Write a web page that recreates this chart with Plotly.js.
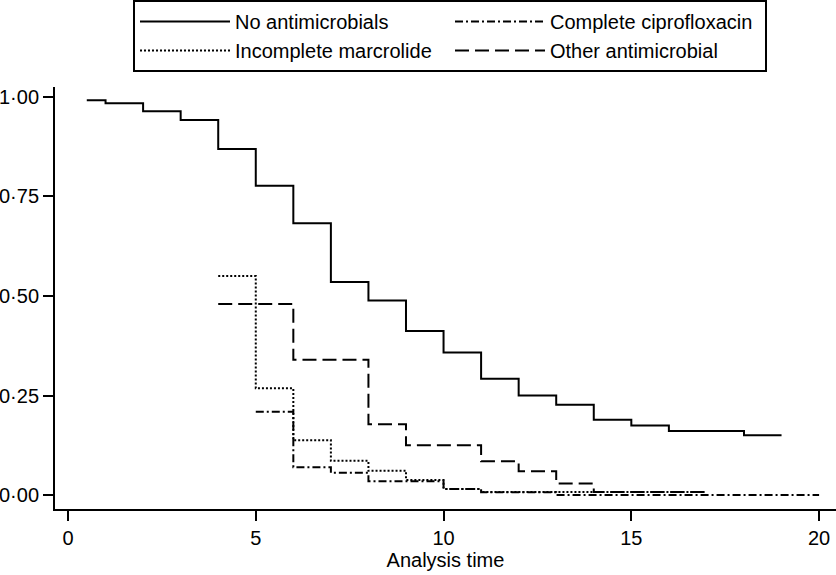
<!DOCTYPE html>
<html>
<head>
<meta charset="utf-8">
<script src="https://cdn.plot.ly/plotly-3.0.1.min.js"></script>
<style>html,body{margin:0;padding:0;background:#fff;}#chart{width:836px;height:575px;}</style>
</head>
<body>
<div id="chart"></div>
<script>
// Kaplan-Meier style step curves (time, survival)
const noAntiTime = [0.5, 1, 2, 3, 4, 5, 6, 7, 8, 9, 10, 11, 12, 13, 14, 15, 16, 18, 19];
const noAntiSurv = [0.992, 0.984, 0.964, 0.942, 0.869, 0.777, 0.683, 0.535, 0.489, 0.412, 0.358, 0.292, 0.250, 0.227, 0.189, 0.175, 0.161, 0.150, 0.150];

const cipTime = [5, 6, 7, 8, 10, 11, 13, 20];
const cipSurv = [0.209, 0.070, 0.056, 0.035, 0.015, 0.007, 0.0, 0.0];

const macTime = [4, 5, 6, 7, 8, 9, 10, 11, 17];
const macSurv = [0.550, 0.268, 0.138, 0.086, 0.061, 0.038, 0.015, 0.008, 0.008];

const otherTime = [4, 6, 8, 9, 11, 12, 13, 14, 17];
const otherSurv = [0.480, 0.340, 0.178, 0.125, 0.085, 0.060, 0.029, 0.008, 0.008];

const seriesNames = ["No antimicrobials", "Complete ciprofloxacin", "Incomplete marcrolide", "Other antimicrobial"];
const xTickVals = [0, 5, 10, 15, 20];
const yTickVals = [0, 0.25, 0.5, 0.75, 1];
const yTickText = ["0·00", "0·25", "0·50", "0·75", "1·00"];

const FONT = "Liberation Sans, Arial, Helvetica, sans-serif";
function tr(x, y, name, dash) {
  return {x: x, y: y, name: name, type: "scatter", mode: "lines",
          line: {shape: "hv", color: "#000", width: 2, dash: dash}};
}
const data = [
  tr(noAntiTime, noAntiSurv, seriesNames[0], "solid"),
  tr(cipTime, cipSurv, seriesNames[1], "8px,3px,2px,3px"),
  tr(macTime, macSurv, seriesNames[2], "2px,2px"),
  tr(otherTime, otherSurv, seriesNames[3], "14px,6px")
];
const layout = {
  width: 836, height: 575,
  margin: {l: 55, r: 0, t: 87, b: 66, autoexpand: false},
  paper_bgcolor: "#fff", plot_bgcolor: "#fff",
  font: {family: FONT, size: 20, color: "#000"},
  showlegend: true,
  legend: {
    orientation: "h", xref: "container", yref: "container",
    x: 133/836, xanchor: "left", y: 1, yanchor: "top",
    entrywidth: 210, itemwidth: 90,
    bordercolor: "#000", borderwidth: 2,
    font: {family: FONT, size: 20, color: "#000"},
    traceorder: "normal"
  },
  xaxis: {
    range: [-0.346, 20.45], tickvals: xTickVals, ticks: "outside", ticklen: 10,
    tickwidth: 2, tickcolor: "#000", showline: true, linecolor: "#000", linewidth: 2,
    showgrid: false, zeroline: false,
    title: {text: "Analysis time", font: {family: FONT, size: 20}, standoff: 1}
  },
  yaxis: {
    range: [-0.035, 1.025], tickvals: yTickVals, ticktext: yTickText, ticks: "outside",
    ticklen: 10, tickwidth: 2, tickcolor: "#000", showline: true, linecolor: "#000",
    linewidth: 2, showgrid: false, zeroline: false
  }
};
Plotly.newPlot("chart", data, layout, {displayModeBar: false, staticPlot: true});
</script>
</body>
</html>
